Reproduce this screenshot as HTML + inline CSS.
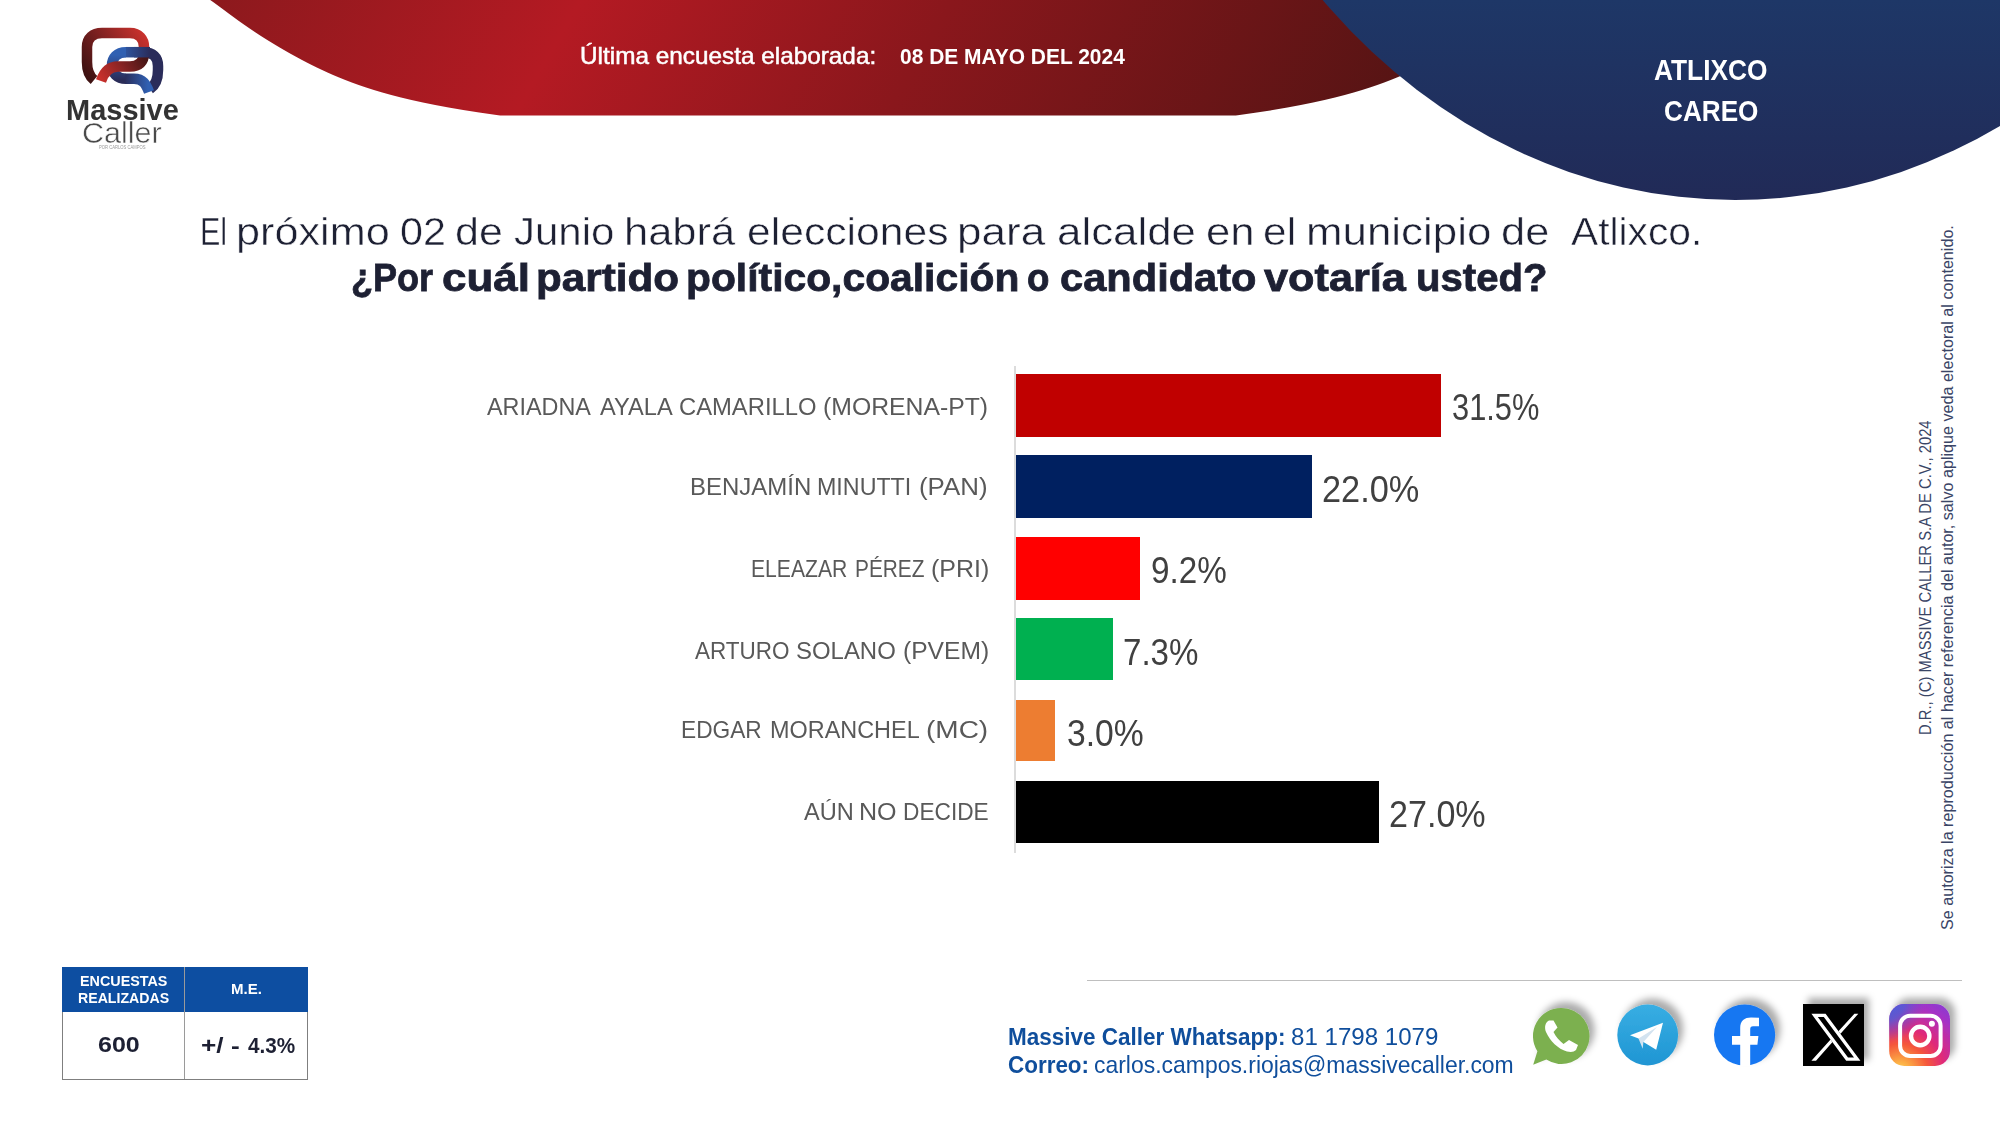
<!DOCTYPE html>
<html><head><meta charset="utf-8">
<style>
html,body{margin:0;padding:0;background:#fff;}
body{width:2000px;height:1125px;position:relative;overflow:hidden;font-family:"Liberation Sans",sans-serif;}
.t{position:absolute;white-space:nowrap;line-height:1;transform-origin:0 0;}
.bar{position:absolute;left:1016px;height:62px;}
</style></head>
<body>
<svg width="2000" height="1125" style="position:absolute;left:0;top:0">
  <defs>
    <linearGradient id="rg" x1="210" y1="0" x2="1137.5" y2="535.5" gradientUnits="userSpaceOnUse">
      <stop offset="0" stop-color="#8c191d"/>
      <stop offset="0.3" stop-color="#b41a23"/>
      <stop offset="0.6" stop-color="#8a171c"/>
      <stop offset="1" stop-color="#571414"/>
    </linearGradient>
    <linearGradient id="bg" x1="0" y1="0" x2="0" y2="200" gradientUnits="userSpaceOnUse">
      <stop offset="0" stop-color="#1e3767"/>
      <stop offset="1" stop-color="#212a57"/>
    </linearGradient>
    <clipPath id="rc"><rect x="0" y="0" width="2000" height="115.5"/></clipPath>
  </defs>
  <path d="M202.8,-5.0 L206.6,-2.5 L210.2,0.0 L213.8,2.5 L217.2,5.0 L220.6,7.5 L224.0,10.0 L227.3,12.5 L230.7,15.0 L234.1,17.5 L237.5,20.0 L241.0,22.5 L244.6,25.0 L248.2,27.5 L251.9,30.0 L255.6,32.5 L259.4,35.0 L263.3,37.5 L267.3,40.0 L271.4,42.5 L275.5,45.0 L279.7,47.5 L284.0,50.0 L288.3,52.5 L292.8,55.0 L297.4,57.5 L302.0,60.0 L306.8,62.5 L311.7,65.0 L316.8,67.5 L322.1,70.0 L327.5,72.5 L333.1,75.0 L339.1,77.5 L345.3,80.0 L351.8,82.5 L358.7,85.0 L366.1,87.5 L373.9,90.0 L382.3,92.5 L391.3,95.0 L401.0,97.5 L411.5,100.0 L422.9,102.5 L435.2,105.0 L448.6,107.5 L463.2,110.0 L479.2,112.5 L496.5,115.0 L500.2,115.5 L1235.8,115.5 L1239.5,115.0 L1256.8,112.5 L1272.8,110.0 L1287.4,107.5 L1300.8,105.0 L1313.1,102.5 L1324.5,100.0 L1335.0,97.5 L1344.7,95.0 L1353.7,92.5 L1362.1,90.0 L1369.9,87.5 L1377.3,85.0 L1384.2,82.5 L1390.7,80.0 L1396.9,77.5 L1402.9,75.0 L1408.5,72.5 L1413.9,70.0 L1419.2,67.5 L1424.3,65.0 L1429.2,62.5 L1434.0,60.0 L1438.6,57.5 L1443.2,55.0 L1447.7,52.5 L1452.0,50.0 L1456.3,47.5 L1460.5,45.0 L1464.6,42.5 L1468.7,40.0 L1472.7,37.5 L1476.6,35.0 L1480.4,32.5 L1484.1,30.0 L1487.8,27.5 L1491.4,25.0 L1495.0,22.5 L1498.5,20.0 L1501.9,17.5 L1505.3,15.0 L1508.7,12.5 L1512.0,10.0 L1515.4,7.5 L1518.8,5.0 L1522.2,2.5 L1525.8,0.0 L1529.4,-2.5 L1533.2,-5.0 Z" fill="url(#rg)"/>
  <ellipse cx="1735.1" cy="-452.6" rx="572.5" ry="652.6" fill="url(#bg)"/>
</svg>

<!-- chart -->
<div style="position:absolute;left:1014.2px;top:366px;width:1.8px;height:487px;background:#dcdcdc"></div>
<div class="bar" style="top:373.8px;height:63.5px;width:425px;background:#c00000"></div>
<div class="bar" style="top:455.2px;height:63.3px;width:296px;background:#002060"></div>
<div class="bar" style="top:536.6px;height:63.4px;width:124px;background:#ff0000"></div>
<div class="bar" style="top:618.1px;height:61.7px;width:97.4px;background:#00b050"></div>
<div class="bar" style="top:699.7px;height:61.3px;width:39px;background:#ed7d31"></div>
<div class="bar" style="top:780.8px;height:62px;width:363.2px;background:#000000"></div>

<!-- table -->
<div style="position:absolute;left:62px;top:967px;width:246px;height:113px;border:1px solid #7f7f7f;box-sizing:border-box;background:#fff"></div>
<div style="position:absolute;left:62px;top:967px;width:246px;height:45px;background:#0d4ea1"></div>
<div style="position:absolute;left:184px;top:967px;width:1px;height:112px;background:#9a9a9a"></div>

<!-- footer line -->
<div style="position:absolute;left:1087px;top:980px;width:875px;height:1px;background:#bfbfbf"></div>

<!-- logo -->
<svg width="200" height="160" style="position:absolute;left:0;top:0">
  <defs>
    <linearGradient id="lr1" x1="87" y1="75" x2="144" y2="35" gradientUnits="userSpaceOnUse">
      <stop offset="0" stop-color="#3f1212"/><stop offset="0.45" stop-color="#7a2020"/><stop offset="1" stop-color="#c8312d"/>
    </linearGradient>
    <linearGradient id="lr2" x1="140" y1="52" x2="100" y2="78" gradientUnits="userSpaceOnUse">
      <stop offset="0" stop-color="#4a1616"/><stop offset="0.5" stop-color="#8a2424"/><stop offset="1" stop-color="#c8302c"/>
    </linearGradient>
    <linearGradient id="lb1" x1="150" y1="0" x2="118" y2="0" gradientUnits="userSpaceOnUse">
      <stop offset="0" stop-color="#2a2c5a"/><stop offset="1" stop-color="#3060b2"/>
    </linearGradient>
    <linearGradient id="lb3" x1="0" y1="55" x2="0" y2="80" gradientUnits="userSpaceOnUse">
      <stop offset="0" stop-color="#3060b2"/><stop offset="1" stop-color="#2a2c58"/>
    </linearGradient>
    <linearGradient id="lb2" x1="124" y1="0" x2="148" y2="0" gradientUnits="userSpaceOnUse">
      <stop offset="0" stop-color="#2a2c58"/><stop offset="1" stop-color="#3060b2"/>
    </linearGradient>
  </defs>
  <g fill="none" stroke-width="10.5" stroke-linecap="butt">
    <path d="M150,89 C156,85 158,79 158,70 L158,66 C158,57 153,52.2 143,52.2" stroke="#2a2c5a"/>
    <path d="M143.5,52.2 L125.5,52.2" stroke="url(#lb1)"/>
    <path d="M126,52.2 C117,52.2 112,58 112,65.5 C112,73 117,78.7 126,78.7" stroke="url(#lb3)"/>
    <path d="M125.5,78.7 L134,78.7 C143,78.7 146,84 149,92" stroke="url(#lb2)"/>
    <path d="M94,80 C89,76 87,70 87,62 L87,47 C87,38 93,33 102,33 L130,33 C139,33 144,39 144,47" stroke="url(#lr1)"/>
    <path d="M144,47 L144,53 C144,62 139,66.5 130,66.5 L118,66.5 C109,66.5 104,72 101,81" stroke="url(#lr2)"/>
    <path d="M134,52.2 L150,52.2" stroke="url(#lb1)"/>
  </g>
</svg>
<!-- social icons -->
<svg width="2000" height="1125" style="position:absolute;left:0;top:0">
  <defs>
    <filter id="sh" x="-30%" y="-30%" width="160%" height="160%">
      <feDropShadow dx="5" dy="-6" stdDeviation="3.5" flood-color="#000" flood-opacity="0.33"/>
    </filter>
    <linearGradient id="tg" x1="0" y1="1004" x2="0" y2="1066" gradientUnits="userSpaceOnUse">
      <stop offset="0" stop-color="#38aee3"/><stop offset="1" stop-color="#1f95d3"/>
    </linearGradient>
    <radialGradient id="ig" cx="1900" cy="1072" r="80" gradientUnits="userSpaceOnUse">
      <stop offset="0" stop-color="#fdd866"/>
      <stop offset="0.12" stop-color="#fcb045"/>
      <stop offset="0.35" stop-color="#f5583a"/>
      <stop offset="0.55" stop-color="#e02a78"/>
      <stop offset="0.85" stop-color="#a632c6"/>
      <stop offset="1" stop-color="#8a3ad0"/>
    </radialGradient>
    <radialGradient id="ig2" cx="1884" cy="1000" r="42" gradientUnits="userSpaceOnUse">
      <stop offset="0" stop-color="#3f63dc" stop-opacity="1"/>
      <stop offset="0.5" stop-color="#4d5fd8" stop-opacity="0.8"/>
      <stop offset="1" stop-color="#6a4fd0" stop-opacity="0"/>
    </radialGradient>
  </defs>
  <g filter="url(#sh)">
    <path d="M1561.5,1008.1 A28,28 0 1 1 1546.3,1059.6 L1533.2,1064.7 L1537.4,1051.2 A28,28 0 0 1 1561.5,1008.1 Z" fill="#7cb050"/>
  </g>
  <path d="M1549,1020.5 L1553.5,1020.5 L1557.5,1027.5 L1553.5,1032 C1556,1037 1559,1040.5 1563.5,1044 L1569,1040 L1578,1045 L1576,1050 C1574,1052 1571,1052.5 1567,1051.5 C1558,1049 1550,1041 1546,1032 C1544,1027 1545.5,1022 1549,1020.5 Z" fill="#fff"/>
  <g filter="url(#sh)"><circle cx="1647.7" cy="1035" r="30.4" fill="url(#tg)"/></g>
  <path d="M1630,1035.2 L1663,1022.7 L1656.2,1049.8 L1643.4,1042 L1638.5,1038.4 Z" fill="#fff"/>
  <path d="M1638.5,1038.4 L1657,1027 L1643.4,1042 L1642.7,1048.7 Z" fill="#d3e3f0"/>
  <g filter="url(#sh)"><circle cx="1744.6" cy="1035" r="30.6" fill="#1877f2"/></g>
  <path d="M1740.2,1066 L1740.2,1044.8 L1732,1044.8 L1732,1035.9 L1740.2,1035.9 L1740.2,1028 C1740.2,1020.5 1744.5,1017.4 1751,1017.4 L1759,1017.8 L1759,1026.3 L1753,1026.3 C1751,1026.3 1750.2,1027.5 1750.2,1029.5 L1750.2,1035.9 L1758.4,1035.9 L1757.4,1044.8 L1750.2,1044.8 L1750.2,1066 Z" fill="#fff"/>
  <g filter="url(#sh)"><rect x="1803" y="1004" width="61" height="62" fill="#000"/></g>
  <path fill="#fff" fill-rule="evenodd" d="M1811.4,1013.8 L1825.6,1013.8 L1860.4,1060.8 L1846.2,1060.8 Z M1817.8,1017 L1848,1057.6 L1854,1057.6 L1823.8,1017 Z"/>
  <path fill="#fff" d="M1854.4,1013.8 L1858.3,1013.8 L1840.5,1033.8 L1838.4,1031.3 Z M1830.6,1039.4 L1832.3,1042.3 L1816,1060.8 L1811.4,1060.8 Z"/>
  <g filter="url(#sh)"><rect x="1889.2" y="1004" width="60.8" height="62" rx="15" ry="15" fill="url(#ig)"/></g>
  <rect x="1889.2" y="1004" width="60.8" height="62" rx="15" ry="15" fill="url(#ig2)"/>
  <rect x="1900.1" y="1015.8" width="40.5" height="40.1" rx="10" ry="10" fill="none" stroke="#fff" stroke-width="4"/>
  <circle cx="1920.2" cy="1036" r="9.2" fill="none" stroke="#fff" stroke-width="4.4"/>
  <circle cx="1931.9" cy="1023.8" r="3" fill="#fff"/>
</svg>
<div class="t" style="left:579.50px;top:44.76px;font-size:23.20px;color:#ffffff;-webkit-text-stroke:0.5px #fff;transform:scaleX(1.0492)">Última encuesta elaborada:</div>
<div class="t" style="left:899.62px;top:45.18px;font-size:22.70px;color:#ffffff;font-weight:bold;transform:scaleX(0.9236)">08 DE MAYO DEL 2024</div>
<div class="t" style="left:1653.67px;top:54.16px;font-size:30.40px;color:#ffffff;font-weight:bold;transform:scaleX(0.8655)">ATLIXCO</div>
<div class="t" style="left:1663.85px;top:94.86px;font-size:30.40px;color:#ffffff;font-weight:bold;transform:scaleX(0.8602)">CAREO</div>
<div class="t" style="left:199.56px;top:211.89px;font-size:39.10px;color:#1d2033;-webkit-text-stroke:0.5px #fff;transform:scaleX(0.7806)">El</div>
<div class="t" style="left:236.11px;top:211.89px;font-size:39.10px;color:#1d2033;-webkit-text-stroke:0.5px #fff;transform:scaleX(1.1056)">próximo</div>
<div class="t" style="left:400.16px;top:211.89px;font-size:39.10px;color:#1d2033;-webkit-text-stroke:0.5px #fff;transform:scaleX(1.0564)">02</div>
<div class="t" style="left:455.48px;top:211.89px;font-size:39.10px;color:#1d2033;-webkit-text-stroke:0.5px #fff;transform:scaleX(1.1009)">de</div>
<div class="t" style="left:514.38px;top:211.89px;font-size:39.10px;color:#1d2033;-webkit-text-stroke:0.5px #fff;transform:scaleX(1.0740)">Junio</div>
<div class="t" style="left:623.64px;top:211.89px;font-size:39.10px;color:#1d2033;-webkit-text-stroke:0.5px #fff;transform:scaleX(1.1119)">habrá</div>
<div class="t" style="left:747.04px;top:211.89px;font-size:39.10px;color:#1d2033;-webkit-text-stroke:0.5px #fff;transform:scaleX(1.0919)">elecciones</div>
<div class="t" style="left:957.36px;top:211.89px;font-size:39.10px;color:#1d2033;-webkit-text-stroke:0.5px #fff;transform:scaleX(1.1274)">para</div>
<div class="t" style="left:1056.99px;top:211.89px;font-size:39.10px;color:#1d2033;-webkit-text-stroke:0.5px #fff;transform:scaleX(1.1226)">alcalde</div>
<div class="t" style="left:1205.75px;top:211.89px;font-size:39.10px;color:#1d2033;-webkit-text-stroke:0.5px #fff;transform:scaleX(1.1200)">en</div>
<div class="t" style="left:1263.30px;top:211.89px;font-size:39.10px;color:#1d2033;-webkit-text-stroke:0.5px #fff;transform:scaleX(1.0875)">el</div>
<div class="t" style="left:1306.12px;top:211.89px;font-size:39.10px;color:#1d2033;-webkit-text-stroke:0.5px #fff;transform:scaleX(1.1230)">municipio</div>
<div class="t" style="left:1500.76px;top:211.89px;font-size:39.10px;color:#1d2033;-webkit-text-stroke:0.5px #fff;transform:scaleX(1.1107)">de</div>
<div class="t" style="left:1571.25px;top:211.89px;font-size:39.10px;color:#1d2033;-webkit-text-stroke:0.5px #fff;transform:scaleX(1.0421)">Atlixco.</div>
<div class="t" style="left:351.20px;top:257.89px;font-size:39.10px;color:#1d2033;font-weight:bold;-webkit-text-stroke:0.8px #1d2033;transform:scaleX(0.9222)">¿Por</div>
<div class="t" style="left:442.48px;top:257.89px;font-size:39.10px;color:#1d2033;font-weight:bold;-webkit-text-stroke:0.8px #1d2033;transform:scaleX(1.1248)">cuál</div>
<div class="t" style="left:535.87px;top:257.89px;font-size:39.10px;color:#1d2033;font-weight:bold;-webkit-text-stroke:0.8px #1d2033;transform:scaleX(1.0803)">partido</div>
<div class="t" style="left:686.25px;top:257.89px;font-size:39.10px;color:#1d2033;font-weight:bold;-webkit-text-stroke:0.8px #1d2033;transform:scaleX(1.0444)">político,coalición</div>
<div class="t" style="left:1027.20px;top:257.89px;font-size:39.10px;color:#1d2033;font-weight:bold;-webkit-text-stroke:0.8px #1d2033;transform:scaleX(0.9393)">o</div>
<div class="t" style="left:1059.65px;top:257.89px;font-size:39.10px;color:#1d2033;font-weight:bold;-webkit-text-stroke:0.8px #1d2033;transform:scaleX(1.0649)">candidato</div>
<div class="t" style="left:1263.90px;top:257.89px;font-size:39.10px;color:#1d2033;font-weight:bold;-webkit-text-stroke:0.8px #1d2033;transform:scaleX(1.1075)">votaría</div>
<div class="t" style="left:1416.49px;top:257.89px;font-size:39.10px;color:#1d2033;font-weight:bold;-webkit-text-stroke:0.8px #1d2033;transform:scaleX(1.0264)">usted?</div>
<div class="t" style="left:486.50px;top:394.60px;font-size:24.80px;color:#595959;transform:scaleX(0.9427)">ARIADNA</div>
<div class="t" style="left:599.60px;top:394.60px;font-size:24.80px;color:#595959;transform:scaleX(0.9535)">AYALA</div>
<div class="t" style="left:679.01px;top:394.60px;font-size:24.80px;color:#595959;transform:scaleX(0.9595)">CAMARILLO</div>
<div class="t" style="left:823.01px;top:394.60px;font-size:24.80px;color:#595959;transform:scaleX(0.9987)">(MORENA-PT)</div>
<div class="t" style="left:690.08px;top:475.40px;font-size:24.80px;color:#595959;transform:scaleX(0.9670)">BENJAMÍN</div>
<div class="t" style="left:817.34px;top:475.40px;font-size:24.80px;color:#595959;transform:scaleX(0.9378)">MINUTTI</div>
<div class="t" style="left:919.25px;top:475.40px;font-size:24.80px;color:#595959;transform:scaleX(1.0435)">(PAN)</div>
<div class="t" style="left:751.11px;top:556.90px;font-size:24.80px;color:#595959;transform:scaleX(0.8528)">ELEAZAR</div>
<div class="t" style="left:854.73px;top:556.90px;font-size:24.80px;color:#595959;transform:scaleX(0.8407)">PÉREZ</div>
<div class="t" style="left:930.50px;top:556.90px;font-size:24.80px;color:#595959;transform:scaleX(1.0081)">(PRI)</div>
<div class="t" style="left:694.70px;top:638.60px;font-size:24.80px;color:#595959;transform:scaleX(0.9071)">ARTURO</div>
<div class="t" style="left:795.84px;top:638.60px;font-size:24.80px;color:#595959;transform:scaleX(0.9655)">SOLANO</div>
<div class="t" style="left:902.72px;top:638.60px;font-size:24.80px;color:#595959;transform:scaleX(0.9929)">(PVEM)</div>
<div class="t" style="left:681.29px;top:717.90px;font-size:24.80px;color:#595959;transform:scaleX(0.9147)">EDGAR</div>
<div class="t" style="left:769.73px;top:717.90px;font-size:24.80px;color:#595959;transform:scaleX(0.9446)">MORANCHEL</div>
<div class="t" style="left:926.32px;top:717.90px;font-size:24.80px;color:#595959;transform:scaleX(1.1285)">(MC)</div>
<div class="t" style="left:803.70px;top:799.50px;font-size:24.80px;color:#595959;transform:scaleX(0.9511)">AÚN</div>
<div class="t" style="left:858.59px;top:799.50px;font-size:24.80px;color:#595959;transform:scaleX(1.0109)">NO</div>
<div class="t" style="left:902.68px;top:799.50px;font-size:24.80px;color:#595959;transform:scaleX(0.9152)">DECIDE</div>
<div class="t" style="left:1451.68px;top:390.22px;font-size:36.00px;color:#404040;transform:scaleX(0.8555)">31.5%</div>
<div class="t" style="left:1322.28px;top:471.72px;font-size:36.00px;color:#404040;transform:scaleX(0.9534)">22.0%</div>
<div class="t" style="left:1150.67px;top:552.92px;font-size:36.00px;color:#404040;transform:scaleX(0.9225)">9.2%</div>
<div class="t" style="left:1122.95px;top:634.72px;font-size:36.00px;color:#404040;transform:scaleX(0.9191)">7.3%</div>
<div class="t" style="left:1066.99px;top:715.92px;font-size:36.00px;color:#404040;transform:scaleX(0.9359)">3.0%</div>
<div class="t" style="left:1389.29px;top:797.12px;font-size:36.00px;color:#404040;transform:scaleX(0.9473)">27.0%</div>
<div class="t" style="left:79.54px;top:973.72px;font-size:14.50px;color:#ffffff;font-weight:bold;transform:scaleX(0.9891)">ENCUESTAS</div>
<div class="t" style="left:77.75px;top:991.32px;font-size:14.50px;color:#ffffff;font-weight:bold;transform:scaleX(0.9757)">REALIZADAS</div>
<div class="t" style="left:230.70px;top:981.72px;font-size:14.50px;color:#ffffff;font-weight:bold;transform:scaleX(1.0374)">M.E.</div>
<div class="t" style="left:97.55px;top:1034.44px;font-size:21.80px;color:#1d2033;font-weight:bold;transform:scaleX(1.1480)">600</div>
<div class="t" style="left:201.25px;top:1034.54px;font-size:21.80px;color:#1d2033;font-weight:bold;transform:scaleX(1.2028)">+/ -</div>
<div class="t" style="left:247.79px;top:1034.54px;font-size:21.80px;color:#1d2033;font-weight:bold;transform:scaleX(0.9500)">4.3%</div>
<div class="t" style="left:65.76px;top:96.45px;font-size:29.00px;color:#333333;font-weight:bold;transform:scaleX(0.9995)">Massive</div>
<div class="t" style="left:81.87px;top:118.45px;font-size:29.70px;color:#4a4a4a;-webkit-text-stroke:0.5px #fff;transform:scaleX(1.0284)">Caller</div>
<div class="t" style="left:98.67px;top:146.49px;font-size:4.50px;color:#9a9a9a;transform:scaleX(0.9249)">POR CARLOS CAMPOS</div>
<div class="t" style="left:1008.35px;top:1024.51px;font-size:24.20px;color:#0f4e9c;font-weight:bold;transform:scaleX(0.9299)">Massive Caller Whatsapp:</div>
<div class="t" style="left:1290.94px;top:1024.51px;font-size:24.20px;color:#0f4e9c;transform:scaleX(0.9959)">81 1798 1079</div>
<div class="t" style="left:1008.00px;top:1053.01px;font-size:24.20px;color:#0f4e9c;font-weight:bold;transform:scaleX(0.9278)">Correo:</div>
<div class="t" style="left:1094.28px;top:1053.01px;font-size:24.20px;color:#0f4e9c;transform:scaleX(0.9483)">carlos.campos.riojas@massivecaller.com</div>
<div class="t" style="left:1917.58px;top:735.39px;font-size:16.80px;color:#3a4566;transform:rotate(-90deg) scaleX(0.8823)">D.R., (C) MASSIVE CALLER S.A DE C.V., 2024</div>
<div class="t" style="left:1939.55px;top:930.15px;font-size:16.00px;color:#3a4566;transform:rotate(-90deg) scaleX(1.0082)">Se autoriza la reproducción al hacer referencia del autor, salvo aplique veda electoral al contenido.</div>
</body></html>
